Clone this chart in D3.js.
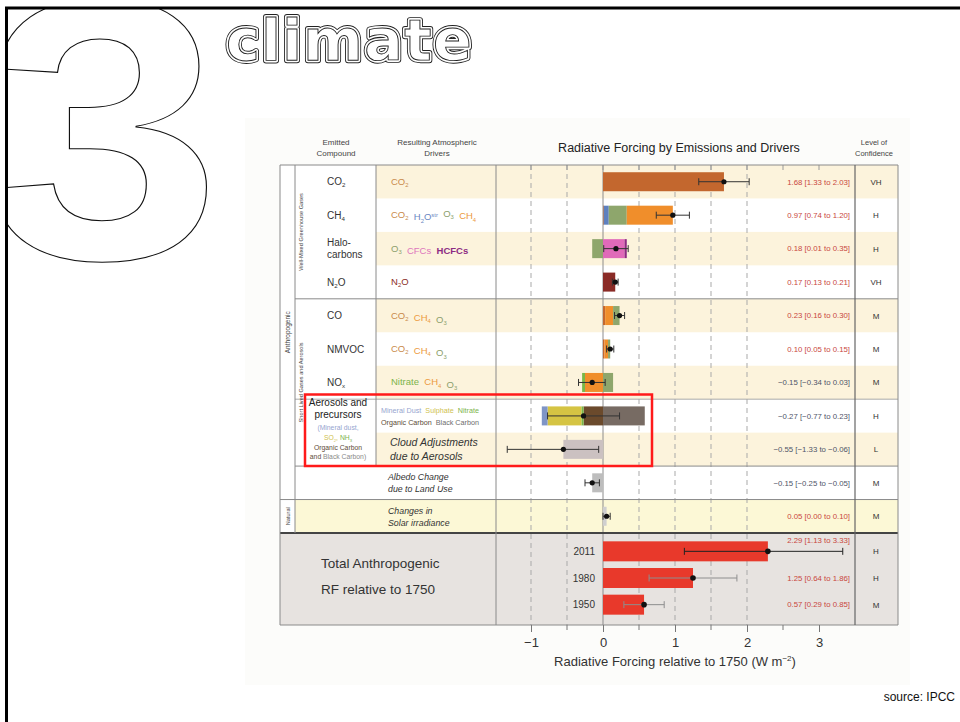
<!DOCTYPE html>
<html>
<head>
<meta charset="utf-8">
<script src="https://cdn.jsdelivr.net/npm/d3@7"></script>
<style>
  html, body { margin: 0; padding: 0; background: #fff; }
  svg { display: block; font-family: "Liberation Sans", Arial, sans-serif; }
</style>
</head>
<body>
<svg id="chart" width="960" height="722"></svg>
<script>
// ---------------- data ----------------
const compounds   = ["CO2", "CH4", "Halocarbons", "N2O", "CO", "NMVOC", "NOx",
                     "Aerosols", "Cloud", "Albedo", "Solar"];
const forcing     = [1.68, 0.97, 0.18, 0.17, 0.23, 0.10, -0.15, -0.27, -0.55, -0.15, 0.05];
const lowBound    = [1.33, 0.74, 0.01, 0.13, 0.16, 0.05, -0.34, -0.77, -1.33, -0.25, 0.00];
const highBound   = [2.03, 1.20, 0.35, 0.21, 0.30, 0.15, 0.03, 0.23, -0.06, -0.05, 0.10];
const confidence  = ["VH", "H", "H", "VH", "M", "M", "M", "H", "L", "M", "M"];

// contribution of each atmospheric driver to a row's bar
const components = [
  [["CO2", 1.68]],
  [["CO2", 0.01], ["H2O", 0.07], ["O3", 0.25], ["CH4", 0.64]],
  [["O3", -0.15], ["CFCs", 0.30], ["HCFCs", 0.03]],
  [["N2O", 0.17]],
  [["CO2", 0.03], ["CH4", 0.11], ["O3", 0.09]],
  [["CO2", 0.02], ["CH4", 0.05], ["O3", 0.03]],
  [["CH4", -0.25], ["Nitrate", -0.04], ["O3", 0.14]],
  [["OC", -0.27], ["Nitrate", -0.03], ["Sulphate", -0.47], ["Dust", -0.08], ["BC", 0.58]],
  [["Cloud", -0.55]],
  [["Albedo", -0.15]],
  [["Solar", 0.05]]
];

const compoundLabels = [["CO_2"], ["CH_4"], ["Halo-", "carbons"], ["N_2O"], ["CO"], ["NMVOC"], ["NO_x"]];

const driverLabels = [
  [[["CO_2", "CO2"]]],
  [[["CO_2", "CO2"], ["H_2O^str", "H2O"], ["O_3", "O3"], ["CH_4", "CH4"]]],
  [[["O_3", "O3"], ["CFCs", "CFCs"], ["HCFCs", "HCFCs"]]],
  [[["N_2O", "N2O"]]],
  [[["CO_2", "CO2"], ["CH_4", "CH4"], ["O_3", "O3"]]],
  [[["CO_2", "CO2"], ["CH_4", "CH4"], ["O_3", "O3"]]],
  [[["Nitrate", "Nitrate"], ["CH_4", "CH4"], ["O_3", "O3"]]],
  [[["Mineral Dust", "Dust"], ["Sulphate", "Sulphate"], ["Nitrate", "Nitrate"]],
   [["Organic Carbon", "OC"], ["Black Carbon", "BC"]]]
];

const italicLabels = [
  ["Cloud Adjustments", "due to Aerosols"],
  ["Albedo Change", "due to Land Use"],
  ["Changes in", "Solar irradiance"]
];

const years         = ["2011", "1980", "1950"];
const totalForcing  = [2.29, 1.25, 0.57];
const totalLow      = [1.13, 0.64, 0.29];
const totalHigh     = [3.33, 1.86, 0.85];
const totalConf     = ["H", "H", "M"];

const axisTicks  = [-1, 0, 1, 2, 3];
const minorTicks = [-0.5, 0.5, 1.5, 2.5];
const gridValues = [-1, -0.5, 0.5, 1, 1.5, 2];

// ---------------- styling ----------------
const barColor = {
  CO2: "#c3672e", H2O: "#5d80bf", O3: "#8ea66c", CH4: "#f08e2b", CFCs: "#e06ab9",
  HCFCs: "#8d2a83", N2O: "#8a2b26", Nitrate: "#79b748", Dust: "#7f95c6",
  Sulphate: "#d5c443", OC: "#6b4a2c", BC: "#776b63", Cloud: "#cbc1c1",
  Albedo: "#bdbdbd", Solar: "#cfcfcf"
};
const textColor = {
  CO2: "#c98a4c", H2O: "#6a87c2", O3: "#8ca06c", CH4: "#ec9a40", CFCs: "#de76bd",
  HCFCs: "#8c2b83", N2O: "#8b2e28", Nitrate: "#7db44b", Dust: "#96a5cf",
  Sulphate: "#cfbf4e", OC: "#5d4b37", BC: "#6d6d6d"
};

const svg = d3.select("#chart");

// layout of the table
const L = 280, GC = 295, CC = 376, BL = 496, VR = 855, R = 898, TOP = 165, BOT = 625;

const x  = d3.scaleLinear().domain([-1, 3]).range([531, 819]);
const y  = d3.scaleBand().domain(d3.range(compounds.length)).range([TOP, 533]);
const yT = d3.scaleBand().domain(years).range([538, 618]);

const fmt = v => d3.format(".2f")(v).replace("-", "\u2212");
const rangeLabel = (b, lo, hi) => `${fmt(b)} [${fmt(lo)} to ${fmt(hi)}]`;

// write a string with _sub and ^sup markers into a text element
function rich(textSel, str, fill, weight) {
  const parts = str.split(/(_[0-9a-z]|\^[a-z]+)/).filter(s => s !== "");
  let shift = 0;
  parts.forEach(p => {
    let t = p, target = 0, small = false;
    if (p[0] === "_") { t = p.slice(1); target = 2.2; small = true; }
    else if (p[0] === "^") { t = p.slice(1); target = -3.2; small = true; }
    const ts = textSel.append("tspan").text(t).attr("dy", target - shift);
    if (small) ts.attr("font-size", "0.62em");
    if (fill) ts.attr("fill", fill);
    if (weight) ts.attr("font-weight", weight);
    shift = target;
  });
  if (shift !== 0) textSel.append("tspan").text("").attr("dy", -shift);
}

// ---------------- page heading ----------------
svg.append("defs").append("clipPath").attr("id", "frameClip")
  .append("rect").attr("x", 7).attr("y", 9).attr("width", 953).attr("height", 713);

svg.append("g").attr("clip-path", "url(#frameClip)")
  .append("text")
  .attr("transform", "translate(-16,258) scale(1.15,1)")
  .attr("font-family", "'Liberation Sans', Arial, sans-serif")
  .attr("font-weight", 700)
  .attr("font-size", 372)
  .attr("fill", "#fff").attr("stroke", "#111").attr("stroke-width", 1)
  .text("3");

const head = svg.append("g").attr("font-family", "'DejaVu Sans', sans-serif")
  .attr("font-weight", 700).attr("font-size", 57).attr("letter-spacing", 1.5);
const hx = 226, hy = 60;
head.append("text").attr("x", hx).attr("y", hy).text("climate")
  .attr("fill", "none").attr("stroke", "#222").attr("stroke-width", 6).attr("stroke-linejoin", "round");
head.append("text").attr("x", hx).attr("y", hy).text("climate")
  .attr("fill", "none").attr("stroke", "#fff").attr("stroke-width", 4.2).attr("stroke-linejoin", "round");
head.append("text").attr("x", hx).attr("y", hy).text("climate")
  .attr("fill", "#fff").attr("stroke", "#222").attr("stroke-width", 0.9);

// ---------------- table background ----------------
const g = svg.append("g");

g.append("rect").attr("x", 245).attr("y", 118).attr("width", 665).attr("height", 567).attr("fill", "#fcfcfa");
g.append("rect").attr("x", L).attr("y", TOP).attr("width", R - L).attr("height", BOT - TOP).attr("fill", "#fff");

// cream stripes on alternating rows
d3.range(compounds.length).filter(i => i % 2 === 0).forEach(i => {
  const x0 = i === 10 ? GC : CC;
  g.append("rect").attr("x", x0).attr("y", y(i)).attr("width", R - x0).attr("height", y.bandwidth())
    .attr("fill", i === 10 ? "#fcf8d6" : "#fcf3dc");
});
// totals panel
g.append("rect").attr("x", L).attr("y", 533).attr("width", R - L).attr("height", BOT - 533).attr("fill", "#e7e3e0");

// grid lines
g.selectAll(".grid").data(gridValues).join("line")
  .attr("x1", d => x(d)).attr("x2", d => x(d)).attr("y1", TOP).attr("y2", BOT)
  .attr("stroke", "#a9a9a9").attr("stroke-dasharray", "5,4");
g.append("line").attr("x1", x(0)).attr("x2", x(0)).attr("y1", TOP).attr("y2", BOT).attr("stroke", "#8c8c8c");
g.selectAll(".ttick").data(axisTicks.concat(minorTicks)).join("line")
  .attr("x1", d => x(d)).attr("x2", d => x(d)).attr("y1", TOP).attr("y2", TOP + 5).attr("stroke", "#999");

// ---------------- bars ----------------
const bh = 19;
components.forEach((segs, i) => {
  let pos = 0, neg = 0;
  const cy = y(i) + y.bandwidth() / 2;
  segs.forEach(([k, v]) => {
    let a, b;
    if (v >= 0) { a = pos; b = pos + v; pos = b; } else { a = neg + v; b = neg; neg = a; }
    g.append("rect").attr("x", x(a)).attr("width", x(b) - x(a))
      .attr("y", cy - bh / 2).attr("height", bh).attr("fill", barColor[k]);
  });
  // uncertainty range and best estimate
  const eb = g.append("g").attr("stroke", "#333").attr("stroke-width", 1);
  eb.append("line").attr("x1", x(lowBound[i])).attr("x2", x(highBound[i])).attr("y1", cy).attr("y2", cy);
  [lowBound[i], highBound[i]].forEach(v =>
    eb.append("line").attr("x1", x(v)).attr("x2", x(v)).attr("y1", cy - 3.5).attr("y2", cy + 3.5));
  g.append("circle").attr("cx", x(forcing[i])).attr("cy", cy).attr("r", 2.6).attr("fill", "#111");

  g.append("text").attr("x", VR - 5).attr("y", cy + 2.8).attr("text-anchor", "end")
    .attr("font-size", 7.8).attr("fill", forcing[i] >= 0 ? "#c9473d" : "#4f5468")
    .text(rangeLabel(forcing[i], lowBound[i], highBound[i]));
  g.append("text").attr("x", 876).attr("y", cy + 3).attr("text-anchor", "middle")
    .attr("font-size", 8).attr("fill", "#333").text(confidence[i]);
});

// totals
years.forEach((yr, i) => {
  const cy = yT(yr) + yT.bandwidth() / 2;
  g.append("rect").attr("x", x(0)).attr("width", x(totalForcing[i]) - x(0))
    .attr("y", cy - 10).attr("height", 20).attr("fill", "#e8392b");
  const col = i === 0 ? "#222" : "#8e8e8e";
  const eb = g.append("g").attr("stroke", col).attr("stroke-width", 1);
  eb.append("line").attr("x1", x(totalLow[i])).attr("x2", x(totalHigh[i])).attr("y1", cy).attr("y2", cy);
  [totalLow[i], totalHigh[i]].forEach(v =>
    eb.append("line").attr("x1", x(v)).attr("x2", x(v)).attr("y1", cy - 3.5).attr("y2", cy + 3.5));
  g.append("circle").attr("cx", x(totalForcing[i])).attr("cy", cy).attr("r", 2.8).attr("fill", "#111");
  g.append("text").attr("x", 595).attr("y", cy + 3.5).attr("text-anchor", "end")
    .attr("font-size", 10).attr("fill", "#333").text(yr);
  g.append("text").attr("x", VR - 5).attr("y", i === 0 ? 543 : cy + 2.8).attr("text-anchor", "end")
    .attr("font-size", 7.8).attr("fill", "#c9473d")
    .text(rangeLabel(totalForcing[i], totalLow[i], totalHigh[i]));
  g.append("text").attr("x", 876).attr("y", cy + 3).attr("text-anchor", "middle")
    .attr("font-size", 8).attr("fill", "#333").text(totalConf[i]);
});
g.append("text").attr("x", 321).attr("y", 568).attr("font-size", 13.5).attr("fill", "#333").text("Total Anthropogenic");
g.append("text").attr("x", 321).attr("y", 594).attr("font-size", 13.5).attr("fill", "#333").text("RF relative to 1750");

// ---------------- table rules ----------------
const rule = (x1, y1, x2, y2, w, c) => g.append("line").attr("x1", x1).attr("y1", y1).attr("x2", x2).attr("y2", y2)
  .attr("stroke", c || "#8a8a8a").attr("stroke-width", w || 1);
rule(L, TOP, R, TOP);
rule(GC, y(4), R, y(4));
rule(GC, y(7), R, y(7), 1, "#aaa");
rule(GC, y(9), R, y(9));
rule(L, y(10), R, y(10));
rule(L, 533, R, 533, 1.8, "#444");
rule(L, BOT, R, BOT);
rule(L, TOP, L, BOT);
rule(GC, TOP, GC, 533);
rule(CC, TOP, CC, y(9));
rule(BL, TOP, BL, BOT);
rule(VR, TOP, VR, BOT, 1.2, "#666");
rule(R, TOP, R, BOT);

// ---------------- row labels ----------------
compoundLabels.forEach((lines, i) => {
  const cy = y(i) + y.bandwidth() / 2;
  lines.forEach((ln, j) => {
    const t = g.append("text").attr("x", 327)
      .attr("y", cy + 3.5 + (j - (lines.length - 1) / 2) * 12)
      .attr("font-size", 10).attr("fill", "#333");
    rich(t, ln);
  });
});

driverLabels.forEach((lines, i) => {
  const cy = y(i) + y.bandwidth() / 2;
  const small = lines.length > 1;
  lines.forEach((tokens, j) => {
    const t = g.append("text").attr("x", small ? 381 : 391)
      .attr("y", cy + 3 + (j - (lines.length - 1) / 2) * 12)
      .attr("font-size", small ? 7.2 : 9.5);
    tokens.forEach(([s, k], n) => {
      if (n > 0) t.append("tspan").text("\u00a0\u00a0");
      rich(t, s, textColor[k], k === "HCFCs" ? 700 : null);
    });
  });
});

// aerosol compound cell spans two rows
{
  const ax = 338;
  const lines = [
    ["Aerosols and", 406, 10, "#222"], ["precursors", 418, 10, "#222"]
  ];
  lines.forEach(([s, yy, fs, c]) => g.append("text").attr("x", ax).attr("y", yy).attr("text-anchor", "middle")
    .attr("font-size", fs).attr("fill", c).text(s));
  const t1 = g.append("text").attr("x", ax).attr("y", 430).attr("text-anchor", "middle").attr("font-size", 6.8);
  rich(t1, "(Mineral dust,", textColor.Dust);
  const t2 = g.append("text").attr("x", ax).attr("y", 440).attr("text-anchor", "middle").attr("font-size", 6.8);
  rich(t2, "SO_2, ", textColor.Sulphate); rich(t2, "NH_3", textColor.Nitrate);
  const t3 = g.append("text").attr("x", ax).attr("y", 450).attr("text-anchor", "middle").attr("font-size", 6.8);
  rich(t3, "Organic Carbon", textColor.OC);
  const t4 = g.append("text").attr("x", ax).attr("y", 459).attr("text-anchor", "middle").attr("font-size", 6.8);
  rich(t4, "and ", textColor.OC); rich(t4, "Black Carbon)", "#8a8a8a");
}

italicLabels.forEach((lines, n) => {
  const i = 8 + n;
  const cy = y(i) + y.bandwidth() / 2;
  const fs = n === 0 ? 10.5 : 8.8;
  lines.forEach((s, j) => g.append("text").attr("x", n === 0 ? 390 : 388)
    .attr("y", cy + 3.5 + (j - 0.5) * (n === 0 ? 14 : 12))
    .attr("font-size", fs).attr("font-style", "italic").attr("fill", "#333").text(s));
});

// group labels (rotated)
const vlab = (s, cx, cy, fs) => g.append("text").attr("transform", `translate(${cx},${cy}) rotate(-90)`)
  .attr("text-anchor", "middle").attr("font-size", fs).attr("fill", "#444").text(s);
vlab("Well-Mixed Greenhouse Gases", 303, (TOP + y(4)) / 2, 5.6);
vlab("Short Lived Gases and Aerosols", 303, (y(4) + y(9)) / 2, 5.6);
vlab("Anthropogenic", 290, (TOP + y(10)) / 2, 6.5);
vlab("Natural", 290, y(10) + y.bandwidth() / 2, 5.6);

// ---------------- headings ----------------
const hdr = (s, xx, yy, fs) => g.append("text").attr("x", xx).attr("y", yy).attr("text-anchor", "middle")
  .attr("font-size", fs).attr("fill", "#444").text(s);
hdr("Emitted", 336, 145, 8); hdr("Compound", 336, 156, 8);
hdr("Resulting Atmospheric", 437, 145, 8); hdr("Drivers", 437, 156, 8);
hdr("Level of", 874, 145, 7.5); hdr("Confidence", 874, 156, 7.5);
g.append("text").attr("x", 679).attr("y", 152).attr("text-anchor", "middle")
  .attr("font-size", 12.5).attr("fill", "#222").text("Radiative Forcing by Emissions and Drivers");

// ---------------- axis ----------------
const axis = g.append("g").attr("transform", `translate(0,${BOT})`)
  .call(d3.axisBottom(x).tickValues(axisTicks).tickSize(7).tickPadding(6)
    .tickFormat(d => String(d).replace("-", "\u2212")));
axis.select(".domain").remove();
axis.selectAll(".tick line").attr("stroke", "#777");
axis.selectAll(".tick text").attr("font-size", 13).attr("fill", "#333")
  .attr("font-family", "'Liberation Sans', Arial, sans-serif");
g.selectAll(".mtick").data(minorTicks).join("line")
  .attr("x1", d => x(d)).attr("x2", d => x(d)).attr("y1", BOT).attr("y2", BOT + 5).attr("stroke", "#777");

const at = g.append("text").attr("x", 675).attr("y", 666).attr("text-anchor", "middle")
  .attr("font-size", 13).attr("fill", "#333");
at.append("tspan").text("Radiative Forcing relative to 1750 (W m");
at.append("tspan").text("\u22122").attr("font-size", 8).attr("dy", -5);
at.append("tspan").text(")").attr("dy", 5);

// highlight box
g.append("rect").attr("x", 305).attr("y", 394.5).attr("width", 347).attr("height", 71.5)
  .attr("fill", "none").attr("stroke", "#ff1a1a").attr("stroke-width", 2.5);

// ---------------- frame and source ----------------
svg.append("line").attr("x1", 5).attr("x2", 960).attr("y1", 8).attr("y2", 8).attr("stroke", "#000").attr("stroke-width", 3);
svg.append("line").attr("x1", 6.5).attr("x2", 6.5).attr("y1", 7).attr("y2", 722).attr("stroke", "#000").attr("stroke-width", 3);
svg.append("text").attr("x", 955).attr("y", 701).attr("text-anchor", "end")
  .attr("font-size", 12).attr("fill", "#111").text("source: IPCC");
</script>
</body>
</html>
